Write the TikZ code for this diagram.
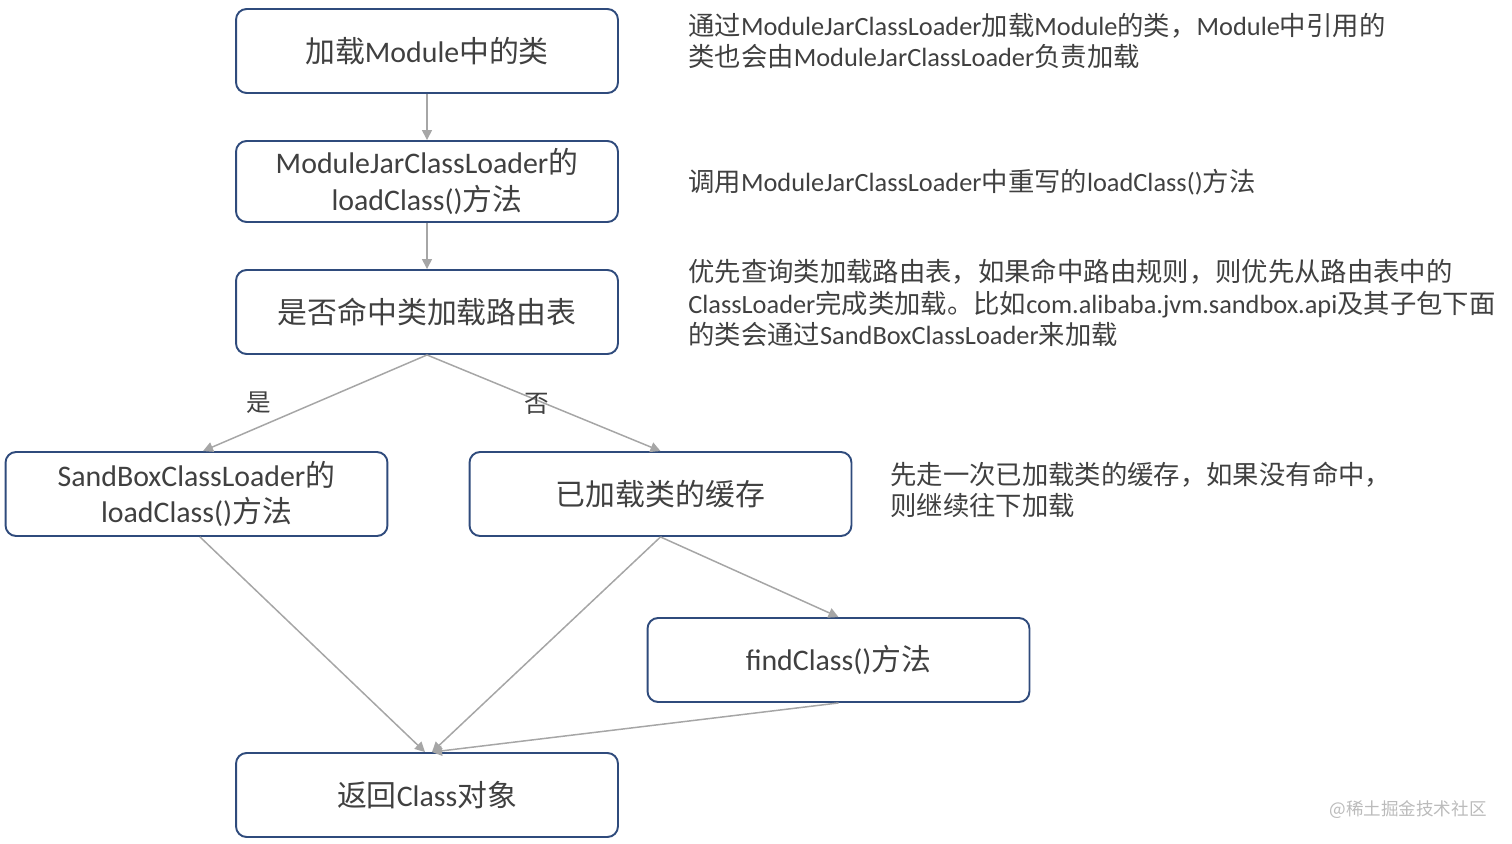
\documentclass[tikz,border=0pt]{standalone}
\usepackage{fontspec}
\setmainfont{Noto Sans CJK SC}
\newfontfamily\latfont{Carlito}
\newcommand\lat[1]{{\latfont #1}}
\usepackage{xcolor}
\definecolor{colorBorder}{HTML}{2F4B7C}
\definecolor{colorText}{HTML}{404040}
\definecolor{colorArrow}{HTML}{A6A6A6}
\definecolor{colorMark}{HTML}{BBBBBB}
\usetikzlibrary{arrows.meta, positioning}
\tikzset{
  box/.style={draw=colorBorder, line width=1.1pt, rounded corners=6pt, minimum width=7.64cm, minimum height=1.68cm, text=colorText, font=\fontsize{17}{21}\selectfont, align=center, inner sep=0pt},
  note/.style={anchor=west, align=left, text=colorText, font=\fontsize{15}{18}\selectfont, inner sep=0pt},
  flow/.style={-{Triangle[length=2mm,width=2mm]}, colorArrow, line width=0.85pt},
}

\begin{document}
\begin{tikzpicture}[x=0.02cm, y=-0.02cm]
\useasboundingbox (0,0) rectangle (1512,844);
\node[box] (load) at (427,51) {加载\lat{Module}中的类};
\node[box, minimum height=1.62cm] (loader) at (427,181.5) {\lat{ModuleJarClassLoader}的\\\lat{loadClass()}方法};
\node[box] (route) at (427,312) {是否命中类加载路由表};
\node[box] (sandbox) at (196.5,494) {\lat{SandBoxClassLoader}的\\\lat{loadClass()}方法};
\node[box] (cache) at (660.5,494) {已加载类的缓存};
\node[box] (find) at (838.5,660) {\lat{findClass()}方法};
\node[box] (ret) at (427,795) {返回\lat{Class}对象};
% notes on the right
\node[note] (n1) at (688,41) {通过\lat{ModuleJarClassLoader}加载\lat{Module}的类，\lat{Module}中引用的\\类也会由\lat{ModuleJarClassLoader}负责加载};
\node[note] (n2) at (688,182) {调用\lat{ModuleJarClassLoader}中重写的\lat{loadClass()}方法};
\node[note] (n3) at (688,303) {优先查询类加载路由表，如果命中路由规则，则优先从路由表中的\\\lat{ClassLoader}完成类加载。比如\lat{com.alibaba.jvm.sandbox.api}及其子包下面\\的类会通过\lat{SandBoxClassLoader}来加载};
\node[note] (n4) at (890,490) {先走一次已加载类的缓存，如果没有命中，\\则继续往下加载};
\node[text=colorMark, font=\fontsize{10}{12}\selectfont] (mark) at (1408,810) {@稀土掘金技术社区};
% arrows
\draw[flow] (load.south) -- (loader.north);
\draw[flow] (loader.south) -- (route.north);
\draw[flow] (route.south) -- ([xshift=0.13cm]sandbox.north) node[pos=0.5, left=0.75cm, text=colorText, font=\fontsize{14}{16}\selectfont] {是};
\draw[flow] (route.south) -- (cache.north) node[pos=0.47, yshift=-0.08cm, text=colorText, font=\fontsize{14}{16}\selectfont] {否};
\draw[flow] ([xshift=0.07cm]sandbox.south) -- ([xshift=-0.04cm]ret.north);
\draw[flow] (cache.south) -- ([xshift=0.1cm]ret.north);
\draw[flow] (cache.south) -- (find.north);
\draw[flow] (find.south) -- ([xshift=0.1cm]ret.north);
\end{tikzpicture}
\end{document}
